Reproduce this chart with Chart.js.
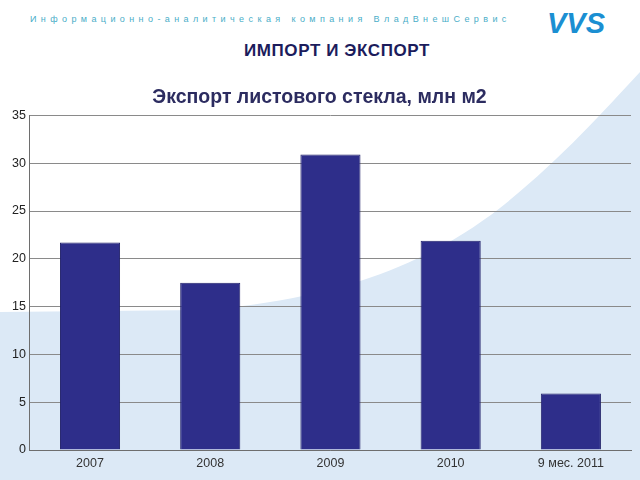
<!DOCTYPE html>
<html>
<head>
<meta charset="utf-8">
<script src="https://cdn.jsdelivr.net/npm/chart.js@4"></script>
<style>
  html, body { margin: 0; padding: 0; }
  body { width: 640px; height: 480px; position: relative; overflow: hidden; background: #dce9f6; font-family: "Liberation Sans", Arial, sans-serif; }
  #bg { position: absolute; left: 0; top: 0; }
  #company { position: absolute; left: 30px; top: 14px; font-size: 9px; letter-spacing: 4.4px; color: #4aaec8; white-space: nowrap; }
  #logo { position: absolute; left: 547px; top: 7px; font-size: 29px; font-weight: bold; font-style: italic; color: #1b8fd2; letter-spacing: 0px; }
  #section { position: absolute; left: 0; width: 674px; top: 41px; text-align: center; font-size: 17px; font-weight: bold; color: #1c1c5c; letter-spacing: 0.6px; }
  #chart { position: absolute; left: 0; top: 0; }
</style>
</head>
<body>
<svg id="bg" width="640" height="480">
  <path d="M0,0 L640,0 L640,72 C600,115 560,160 500,208 C430,262 340,300 200,310 L0,312 Z" fill="#ffffff"/>
</svg>
<div id="company">Информационно-аналитическая компания ВладВнешСервис</div>
<div id="logo">VVS</div>
<div id="section">ИМПОРТ И ЭКСПОРТ</div>
<canvas id="chart" width="640" height="480"></canvas>
<script>
// Chart data
const categories = ['2007', '2008', '2009', '2010', '9 мес. 2011'];
const exportValues = [21.7, 17.5, 30.9, 21.9, 5.9];
const yTicks = [0, 5, 10, 15, 20, 25, 30, 35];

const ctx = document.getElementById('chart').getContext('2d');

new Chart(ctx, {
    type: 'bar',
    data: {
        labels: categories,
        datasets: [{
            label: 'Экспорт',
            data: exportValues,
            backgroundColor: '#2e2e8a',
            borderColor: '#22226a',
            borderWidth: 1,
            barPercentage: 0.5,
            categoryPercentage: 1.0
        }]
    },
    options: {
        responsive: false,
        animation: false,
        layout: {
            padding: { left: 8, right: 9, top: 86, bottom: 3 }
        },
        plugins: {
            legend: { display: false },
            tooltip: { enabled: false },
            title: {
                display: true,
                text: 'Экспорт листового стекла, млн м2',
                color: '#2c2c60',
                font: { family: 'Liberation Sans', size: 19.5, weight: 'bold' },
                padding: { top: 0, bottom: 6 }
            }
        },
        scales: {
            x: {
                grid: { display: false, drawTicks: false },
                border: { display: true, color: '#6e6e6e', width: 1 },
                ticks: {
                    color: '#333333',
                    padding: 6,
                    font: { family: 'Liberation Sans', size: 12.5 }
                }
            },
            y: {
                min: yTicks[0],
                max: yTicks[yTicks.length - 1],
                afterBuildTicks: function(scale) {
                    scale.ticks = yTicks.map(v => ({ value: v }));
                },
                grid: { color: '#8a8a8a', lineWidth: 1, drawTicks: false },
                border: { display: true, color: '#6e6e6e', width: 1 },
                ticks: {
                    color: '#222222',
                    padding: 4,
                    font: { family: 'Liberation Sans', size: 12.5 }
                }
            }
        }
    }
});
</script>
</body>
</html>
